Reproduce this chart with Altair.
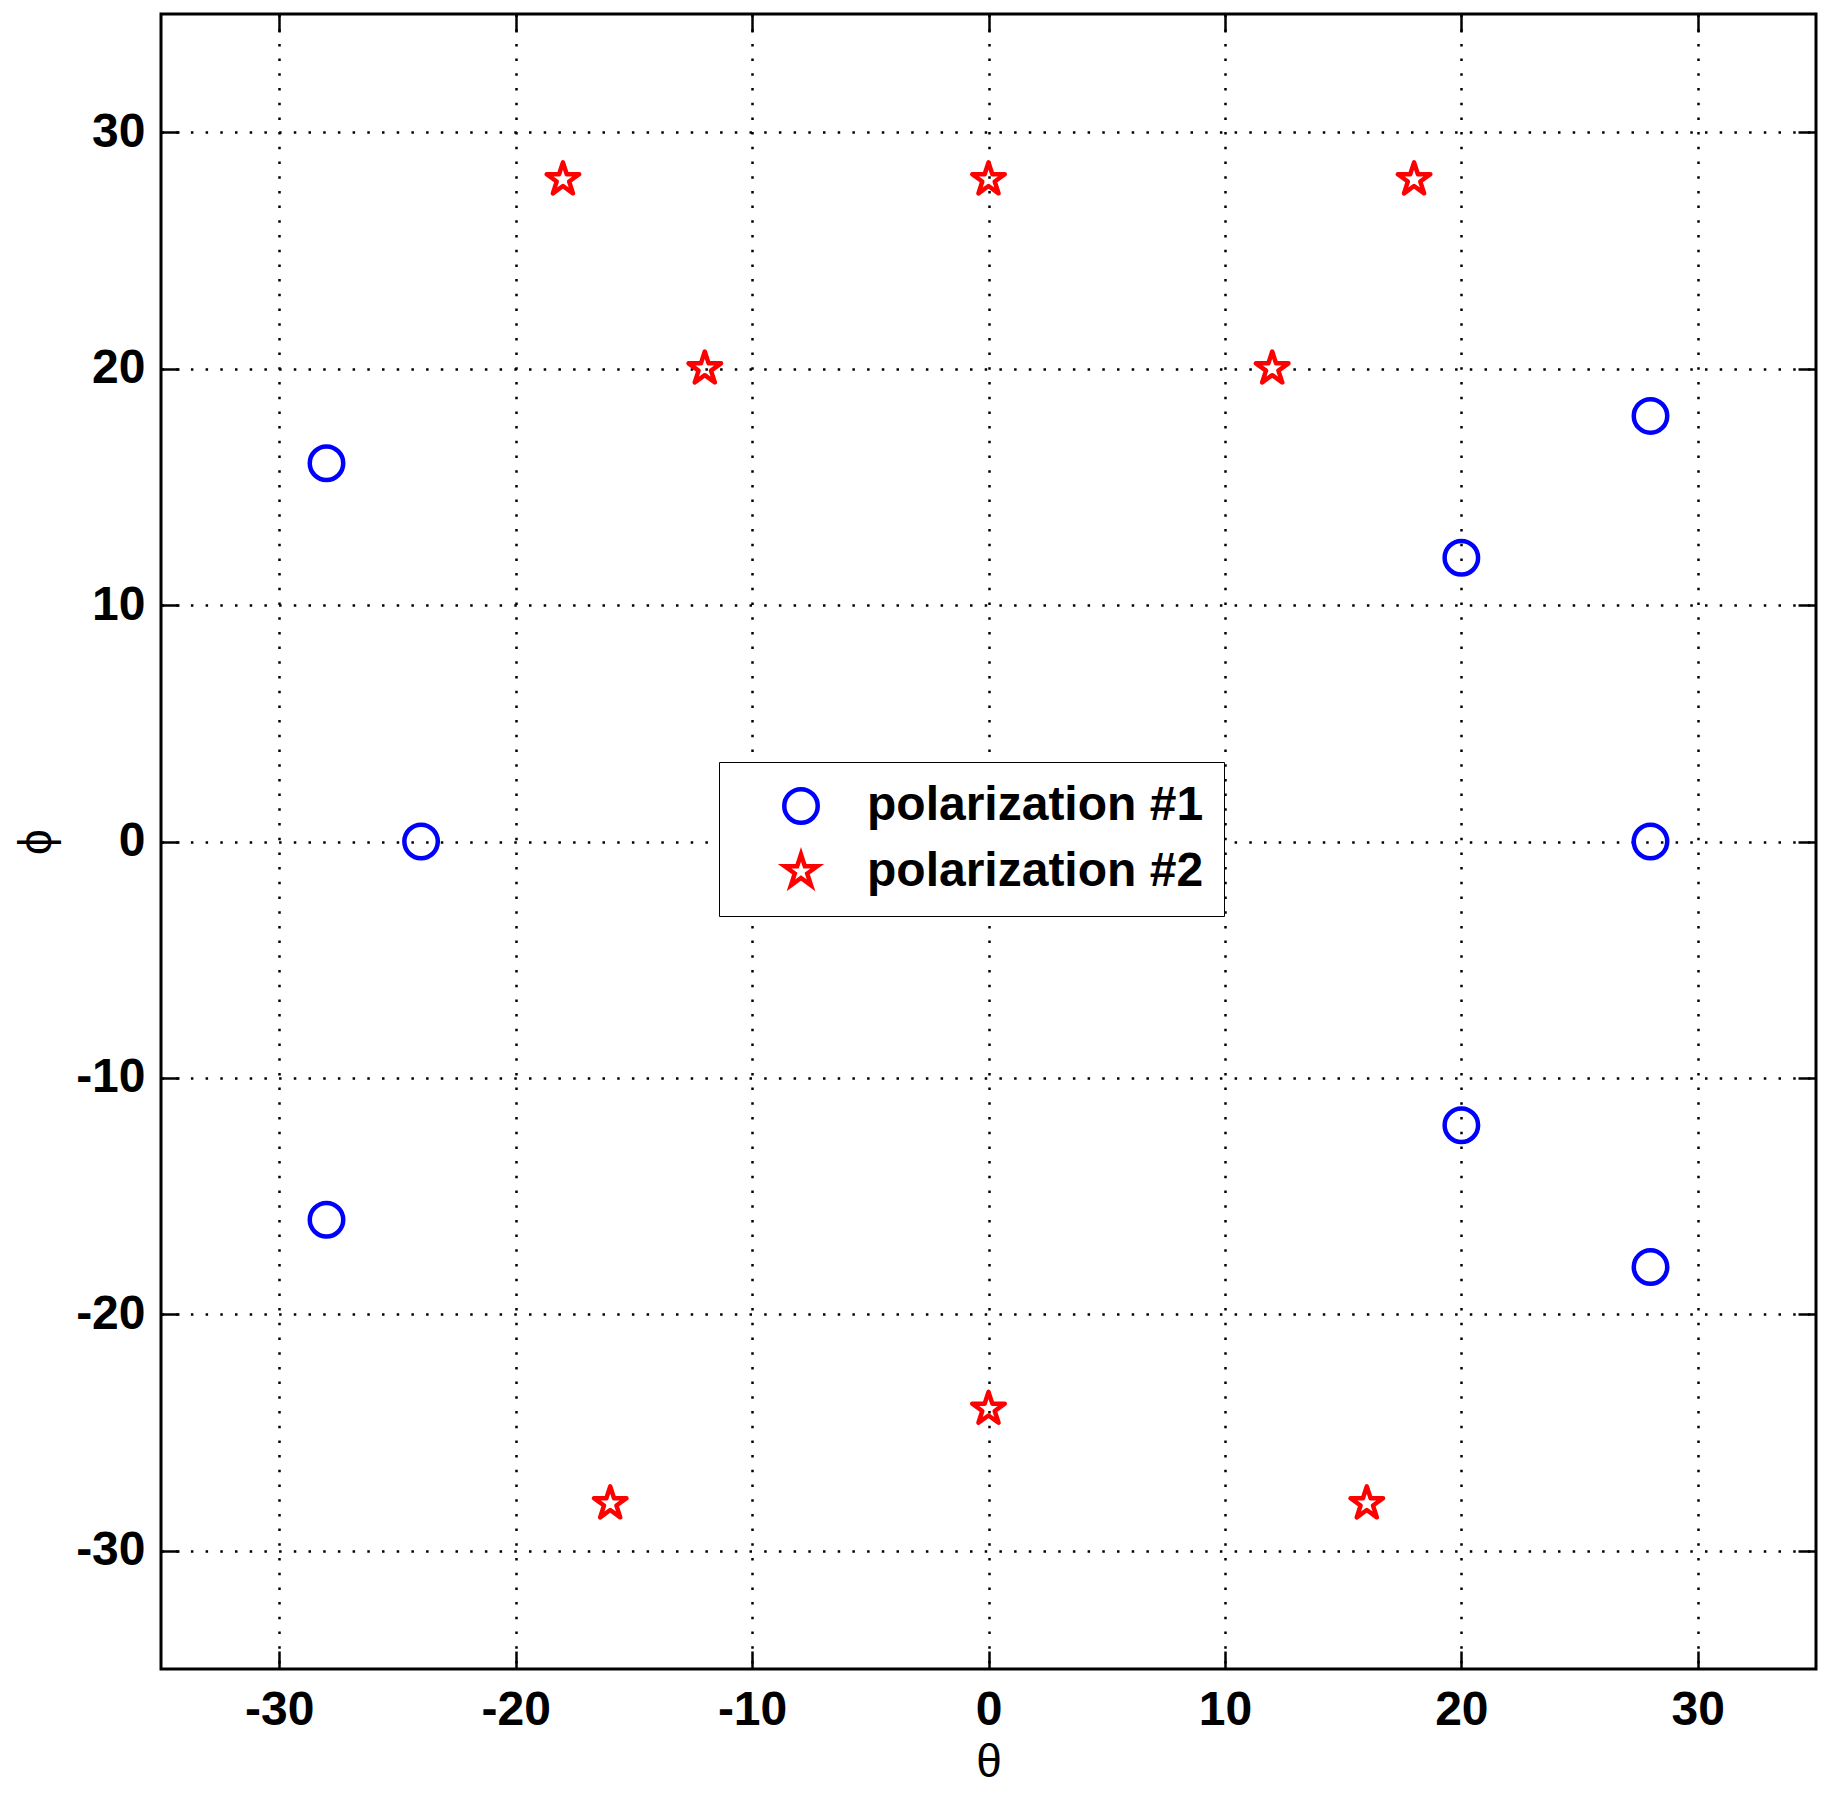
import altair as alt
import pandas as pd

# --- data ---
series_names = ["polarization #1", "polarization #2"]
p1_theta = [-28, -24, -28, 20, 28, 28, 20, 28]
p1_phi = [16, 0, -16, 12, 18, 0, -12, -18]
p2_theta = [-18, 0, 18, -12, 12, -16, 0, 16]
p2_phi = [28, 28, 28, 20, 20, -28, -24, -28]
tick_values = [-30, -20, -10, 0, 10, 20, 30]
axis_domain = [-35, 35]

df = pd.DataFrame({
    "theta": p1_theta + p2_theta,
    "phi": p1_phi + p2_phi,
    "series": [series_names[0]] * len(p1_theta) + [series_names[1]] * len(p2_theta),
})
tick_df = pd.DataFrame({"t": tick_values})

STAR = ("M0,-1L0.2245,-0.309L0.951,-0.309L0.363,0.118L0.588,0.809L0,0.382"
        "L-0.588,0.809L-0.363,0.118L-0.951,-0.309L-0.2245,-0.309Z")

FONT = "Liberation Sans"
TICK = 18
LBL = "replace(datum.label, '\u2212', '-')"
scale = alt.Scale(domain=axis_domain, nice=False, zero=False)

common = dict(
    values=tick_values, grid=True, ticks=False, tickSize=0, domain=False,
    labelFontSize=48, labelFontWeight="bold", labelFont=FONT, labelColor="black",
    titleFont=FONT, titleFontSize=46, titleFontWeight="normal", titleColor="black",
    gridColor="black", gridOpacity=1, gridWidth=2.5, gridDash=[2.5, 12.2],
    labelFlush=False, labelOverlap=False, labelExpr=LBL,
)
main_x_axis = alt.Axis(title="θ", labelPadding=17, titlePadding=6, **common)
main_y_axis = alt.Axis(title="ϕ", labelPadding=16, titlePadding=15, **common)

points = alt.Chart(df).mark_point(filled=False, strokeWidth=4.5, strokeJoin="round", opacity=1).encode(
    x=alt.X("theta:Q", scale=scale, axis=main_x_axis),
    y=alt.Y("phi:Q", scale=scale, axis=main_y_axis),
    color=alt.Color("series:N", scale=alt.Scale(domain=series_names, range=["#0000ff", "#ff0000"]),
                    legend=alt.Legend(title=None)),
    shape=alt.Shape("series:N", scale=alt.Scale(domain=series_names, range=["circle", STAR]),
                    legend=alt.Legend(title=None)),
    size=alt.Size("series:N", scale=alt.Scale(domain=series_names, range=[1120, 1170]),
                  legend=alt.Legend(title=None)),
)


def tick_axis(orient):
    return alt.Axis(orient=orient, offset=-TICK, values=tick_values, labels=False, grid=False,
                    domain=False, ticks=True, tickSize=TICK, tickWidth=2.5, tickColor="black",
                    title=None)


ticks_bl = alt.Chart(tick_df).mark_point(opacity=0).encode(
    x=alt.X("t:Q", scale=scale, axis=tick_axis("bottom")),
    y=alt.Y("t:Q", scale=scale, axis=tick_axis("left")),
)
ticks_tr = alt.Chart(tick_df).mark_point(opacity=0).encode(
    x=alt.X("t:Q", scale=scale, axis=tick_axis("top")),
    y=alt.Y("t:Q", scale=scale, axis=tick_axis("right")),
)

chart = alt.layer(points, ticks_bl, ticks_tr).resolve_axis(
    x="independent", y="independent"
).properties(
    width=1655, height=1655,
    autosize=alt.AutoSizeParams(type="none"),
    padding={"left": 153, "top": 6, "right": 10, "bottom": 121},
    background="white",
).configure_view(
    stroke="black", strokeWidth=3
).configure_legend(
    orient="none", legendX=558, legendY=748, direction="vertical",
    strokeColor="black", fillColor="white", padding=20,
    symbolOffset=38, labelOffset=42, rowPadding=12.5,
    labelFontSize=48, labelFontWeight="bold", labelFont=FONT, labelColor="black",
    labelLimit=1000, symbolStrokeWidth=4.5,
)

chart.save("out.html", embed_options={"renderer": "svg", "actions": False})
